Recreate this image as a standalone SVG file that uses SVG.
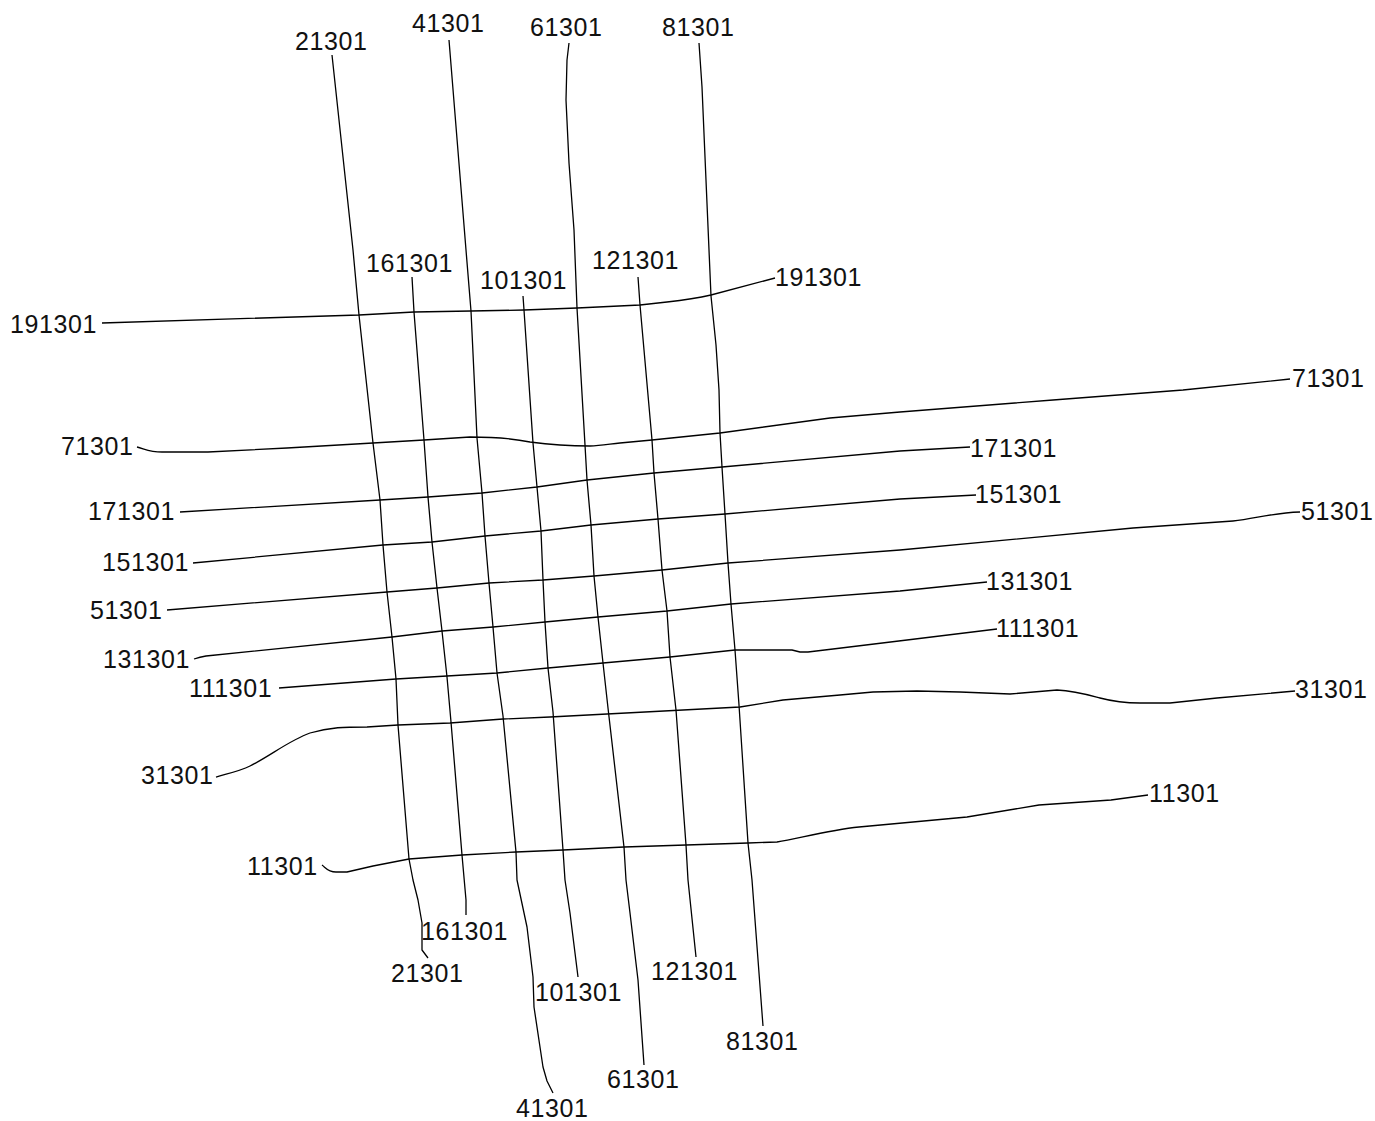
<svg xmlns="http://www.w3.org/2000/svg" width="1375" height="1121" viewBox="0 0 1375 1121">
<style>
.ln{fill:none;stroke:#000;stroke-width:1.3;stroke-linejoin:round;stroke-linecap:butt}
.lb{font-family:"Liberation Sans",Arial,sans-serif;font-size:25px;letter-spacing:0.6px;fill:#111}
</style>
<rect width="1375" height="1121" fill="#fff"/>
<g id="connectors">
<path id="l21301" class="ln" d="M332,55 L353,250 L359,315 L373,443 L380,500 L383,545 L387,592 L392,637 L396,679 L398,725 L409,859 L413,880 L418,900 L422,923 L422,950 L428,958"/>
<path id="l161301" class="ln" d="M412,277 L414,312 L424,440 L428,497 L432,542 L437,588 L442,631 L447,677 L451,722 L462,855 L466,900 L466,915"/>
<path id="l41301" class="ln" d="M449,40 L466,250 L471,311 L477,438 L482,493 L485,536 L489,583 L493,627 L497,673 L503,716 L516,852 L517,880 L527,927 L533,977 L534,1007 L543,1067 L547,1081 L553,1093"/>
<path id="l101301" class="ln" d="M523,296 L524,310 L533,443 L537,487 L541,531 L543,580 L545,622 L548,668 L553,712 L563,850 L565,880 L570,913 L578,977"/>
<path id="l61301" class="ln" d="M569,43 L567,60 L566,100 L569,163 L574,230 L577,308 L585,445 L587,480 L591,525 L594,576 L598,617 L603,663 L608,708 L624,847 L626,880 L630,913 L638,980 L644,1065"/>
<path id="l121301" class="ln" d="M638,277 L640,305 L652,440 L654,473 L658,519 L662,570 L667,611 L670,657 L676,710 L686,845 L688,880 L696,957"/>
<path id="l81301" class="ln" d="M699,43 L702,87 L705,157 L709,250 L711,296 L716,345 L719,390 L720,433 L722,467 L725,514 L728,563 L731,604 L735,650 L739,705 L748,843 L752,880 L763,1026"/>
<path id="l191301" class="ln" d="M102,323 L359,315 L414,312 L471,311 L524,310 L577,308 L640,305 L667,302 C685,300 698,298 711,295 L775,278"/>
<path id="l71301" class="ln" d="M137,447 C145,449 150,452 162,452 L208,452 L287,448 L373,443 L424,440 L470,437 C490,437 510,438 530,442 C545,444 560,446 590,446 C600,446 610,444 620,443 L652,440 L720,433 L830,418 L900,412 L1053,400 L1183,390 L1290,379"/>
<path id="l171301" class="ln" d="M180,512 L380,500 L428,497 L482,493 L537,487 L587,480 L654,473 L722,467 L900,451 L970,447"/>
<path id="l151301" class="ln" d="M193,563 L383,545 L432,542 L485,536 L541,531 L591,525 L658,519 L725,514 L900,499 L976,495"/>
<path id="l51301" class="ln" d="M167,610 L387,592 L437,588 L489,583 L543,580 L594,576 L662,570 L728,563 L900,550 L1133,528 L1233,521 C1255,519 1270,513 1300,512"/>
<path id="l131301" class="ln" d="M194,659 C197,658 200,657 206,656 L392,637 L442,631 L493,627 L545,622 L598,617 L667,611 L731,604 L900,591 L987,582"/>
<path id="l111301" class="ln" d="M279,688 L396,679 L447,676 L497,673 L548,668 L603,663 L670,657 L735,650 L792,650 L800,652 L808,652 L833,649 L907,640 L997,629"/>
<path id="l31301" class="ln" d="M216,777 C230,773 240,771 250,766 C270,756 290,740 310,733 C330,727 345,727 367,727 L398,725 L450,723 L503,719 L550,717 L740,707 L783,700 L840,695 L873,692 L917,691 L960,692 L1010,694 L1057,690 C1075,691 1085,694 1100,698 C1115,702 1125,703 1140,703 L1170,703 L1217,698 L1295,691"/>
<path id="l11301" class="ln" d="M322,865 C326,868 328,872 336,872 L347,872 L373,866 L409,859 L462,855 L516,852 L563,850 L624,847 L686,845 L748,843 L777,842 C800,838 830,830 859,827 L967,817 L1039,805 L1111,800 L1148,795"/>
</g>
<g id="labels">
<g id="n21301"><text class="lb" x="295" y="50">21301</text><text class="lb" x="391" y="982">21301</text></g>
<g id="n41301"><text class="lb" x="412" y="32">41301</text><text class="lb" x="516" y="1117">41301</text></g>
<g id="n61301"><text class="lb" x="530" y="36">61301</text><text class="lb" x="607" y="1088">61301</text></g>
<g id="n81301"><text class="lb" x="662" y="36">81301</text><text class="lb" x="726" y="1050">81301</text></g>
<g id="n161301"><text class="lb" x="366" y="272">161301</text><text class="lb" x="421" y="940">161301</text></g>
<g id="n101301"><text class="lb" x="480" y="289">101301</text><text class="lb" x="535" y="1001">101301</text></g>
<g id="n121301"><text class="lb" x="592" y="269">121301</text><text class="lb" x="651" y="980">121301</text></g>
<g id="n191301"><text class="lb" x="10" y="333">191301</text><text class="lb" x="775" y="286">191301</text></g>
<g id="n71301"><text class="lb" x="61" y="455">71301</text><text class="lb" x="1292" y="387">71301</text></g>
<g id="n171301"><text class="lb" x="88" y="520">171301</text><text class="lb" x="970" y="457">171301</text></g>
<g id="n151301"><text class="lb" x="102" y="571">151301</text><text class="lb" x="975" y="503">151301</text></g>
<g id="n51301"><text class="lb" x="90" y="619">51301</text><text class="lb" x="1301" y="520">51301</text></g>
<g id="n131301"><text class="lb" x="103" y="668">131301</text><text class="lb" x="986" y="590">131301</text></g>
<g id="n111301"><text class="lb" x="189" y="697">111301</text><text class="lb" x="996" y="637">111301</text></g>
<g id="n31301"><text class="lb" x="141" y="784">31301</text><text class="lb" x="1295" y="698">31301</text></g>
<g id="n11301"><text class="lb" x="247" y="875">11301</text><text class="lb" x="1149" y="802">11301</text></g>
</g>
</svg>
